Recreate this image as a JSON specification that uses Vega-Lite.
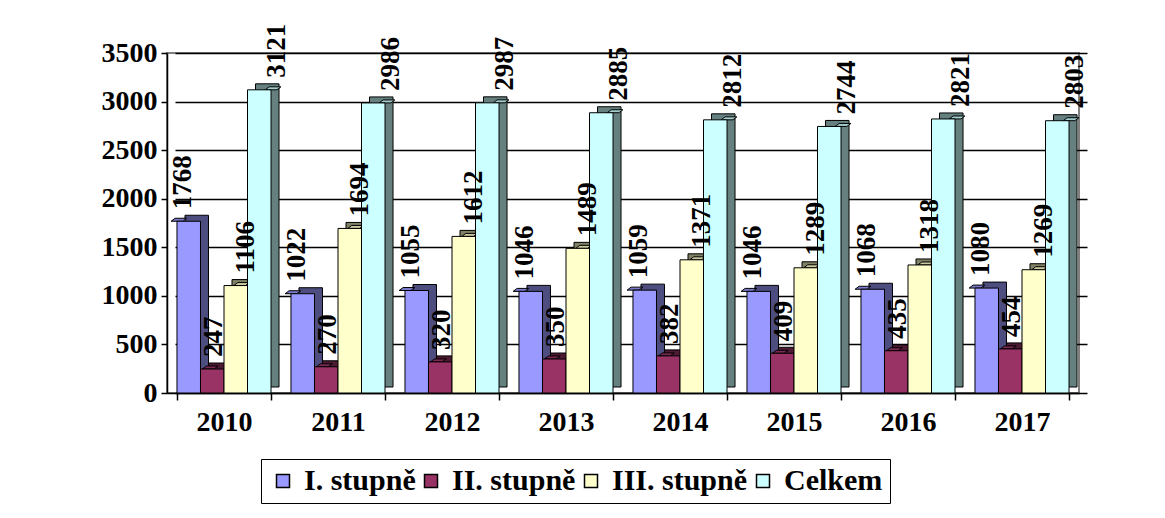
{
  "$schema": "https://vega.github.io/schema/vega-lite/v6.json",
  "width": 912,
  "height": 340,
  "autosize": {"type": "none"},
  "padding": {"left": 167, "top": 53, "right": 86, "bottom": 125},
  "background": "white",
  "config": {
    "font": "Liberation Serif",
    "view": {"stroke": "#808080", "strokeWidth": 2},
    "legend": {"strokeColor": "black"}
  },
  "data": {
    "values": [
      {"year": "2010", "series": "I. stupně", "value": 1768},
      {"year": "2010", "series": "II. stupně", "value": 247},
      {"year": "2010", "series": "III. stupně", "value": 1106},
      {"year": "2010", "series": "Celkem", "value": 3121},
      {"year": "2011", "series": "I. stupně", "value": 1022},
      {"year": "2011", "series": "II. stupně", "value": 270},
      {"year": "2011", "series": "III. stupně", "value": 1694},
      {"year": "2011", "series": "Celkem", "value": 2986},
      {"year": "2012", "series": "I. stupně", "value": 1055},
      {"year": "2012", "series": "II. stupně", "value": 320},
      {"year": "2012", "series": "III. stupně", "value": 1612},
      {"year": "2012", "series": "Celkem", "value": 2987},
      {"year": "2013", "series": "I. stupně", "value": 1046},
      {"year": "2013", "series": "II. stupně", "value": 350},
      {"year": "2013", "series": "III. stupně", "value": 1489},
      {"year": "2013", "series": "Celkem", "value": 2885},
      {"year": "2014", "series": "I. stupně", "value": 1059},
      {"year": "2014", "series": "II. stupně", "value": 382},
      {"year": "2014", "series": "III. stupně", "value": 1371},
      {"year": "2014", "series": "Celkem", "value": 2812},
      {"year": "2015", "series": "I. stupně", "value": 1046},
      {"year": "2015", "series": "II. stupně", "value": 409},
      {"year": "2015", "series": "III. stupně", "value": 1289},
      {"year": "2015", "series": "Celkem", "value": 2744},
      {"year": "2016", "series": "I. stupně", "value": 1068},
      {"year": "2016", "series": "II. stupně", "value": 435},
      {"year": "2016", "series": "III. stupně", "value": 1318},
      {"year": "2016", "series": "Celkem", "value": 2821},
      {"year": "2017", "series": "I. stupně", "value": 1080},
      {"year": "2017", "series": "II. stupně", "value": 454},
      {"year": "2017", "series": "III. stupně", "value": 1269},
      {"year": "2017", "series": "Celkem", "value": 2803}
    ]
  },
  "encoding": {
    "xOffset": {
      "field": "series",
      "type": "nominal",
      "sort": ["I. stupně", "II. stupně", "III. stupně", "Celkem"],
      "scale": {"paddingInner": 0, "paddingOuter": 0}
    },
    "y": {
      "field": "value",
      "type": "quantitative",
      "title": null,
      "scale": {"domain": [0, 3500], "nice": false},
      "axis": {
        "values": [0, 500, 1000, 1500, 2000, 2500, 3000, 3500],
        "format": "d",
        "labelFont": "Liberation Serif",
        "labelFontWeight": "bold",
        "labelFontSize": 28,
        "labelColor": "black",
        "labelPadding": 4,
        "tickSize": 6,
        "tickColor": "black",
        "tickWidth": 1.5,
        "domainColor": "black",
        "domainWidth": 1.5,
        "grid": true,
        "gridColor": "black",
        "gridWidth": 1.5
      }
    }
  },
  "layer": [
    {
      "mark": {"type": "bar", "yOffset": -6, "y2Offset": -6, "stroke": "black", "strokeWidth": 1},
      "encoding": {
        "x": {
          "field": "year",
          "type": "nominal",
          "scale": {"paddingInner": 0.175, "paddingOuter": 0.0875, "range": [8, 920]},
          "axis": null
        },
        "color": {
          "field": "series",
          "type": "nominal",
          "scale": {
            "domain": ["I. stupně", "II. stupně", "III. stupně", "Celkem"],
            "range": ["#4D4D80", "#4D1A33", "#808066", "#668080"]
          },
          "legend": null
        }
      }
    },
    {
      "mark": {"type": "point", "shape": "M-0.5,0L0.5,0L0.84,-0.255L-0.16,-0.255Z", "size": 552, "filled": true, "opacity": 1, "stroke": "black", "strokeWidth": 1},
      "encoding": {
        "x": {
          "field": "year",
          "type": "nominal",
          "scale": {"paddingInner": 0.175, "paddingOuter": 0.0875},
          "axis": null
        },
        "fill": {
          "field": "series",
          "type": "nominal",
          "scale": {
            "domain": ["I. stupně", "II. stupně", "III. stupně", "Celkem"],
            "range": ["#7A7ACC", "#7A2952", "#CCCCA3", "#A3CCCC"]
          },
          "legend": null
        }
      }
    },
    {
      "mark": {"type": "bar", "stroke": "black", "strokeWidth": 1},
      "encoding": {
        "x": {
          "field": "year",
          "type": "nominal",
          "title": null,
          "scale": {"paddingInner": 0.175, "paddingOuter": 0.0875},
          "axis": {
            "labelAngle": 0,
            "tickBand": "extent",
            "tickSize": 7,
            "tickColor": "black",
            "tickWidth": 1.5,
            "domainColor": "black",
            "domainWidth": 1.5,
            "labelFont": "Liberation Serif",
            "labelFontWeight": "bold",
            "labelFontSize": 28,
            "labelColor": "black",
            "labelPadding": 8,
            "grid": false
          }
        },
        "color": {
          "field": "series",
          "type": "nominal",
          "scale": {
            "domain": ["I. stupně", "II. stupně", "III. stupně", "Celkem"],
            "range": ["#9999FF", "#993366", "#FFFFCC", "#CCFFFF"]
          },
          "legend": {
            "title": null,
            "orient": "none",
            "legendX": 94,
            "legendY": 406,
            "direction": "horizontal",
            "symbolType": "square",
            "symbolSize": 169,
            "symbolStrokeColor": "black",
            "symbolStrokeWidth": 1.5,
            "symbolOpacity": 1,
            "labelFont": "Liberation Serif",
            "labelFontWeight": "bold",
            "labelFontSize": 30,
            "labelColor": "black",
            "labelOffset": 6,
            "columnPadding": -6,
            "padding": 7,
            "strokeColor": "black",
            "labelLimit": 300
          }
        }
      }
    },
    {
      "mark": {"type": "text", "angle": 270, "align": "left", "baseline": "middle", "dx": 12, "dy": 6, "font": "Liberation Serif", "fontWeight": "bold", "fontSize": 27, "color": "black"},
      "encoding": {
        "x": {
          "field": "year",
          "type": "nominal",
          "scale": {"paddingInner": 0.175, "paddingOuter": 0.0875},
          "axis": null
        },
        "text": {"field": "value", "type": "quantitative"}
      }
    }
  ],
  "resolve": {"scale": {"x": "independent", "xOffset": "independent", "color": "independent", "fill": "independent"}}
}
